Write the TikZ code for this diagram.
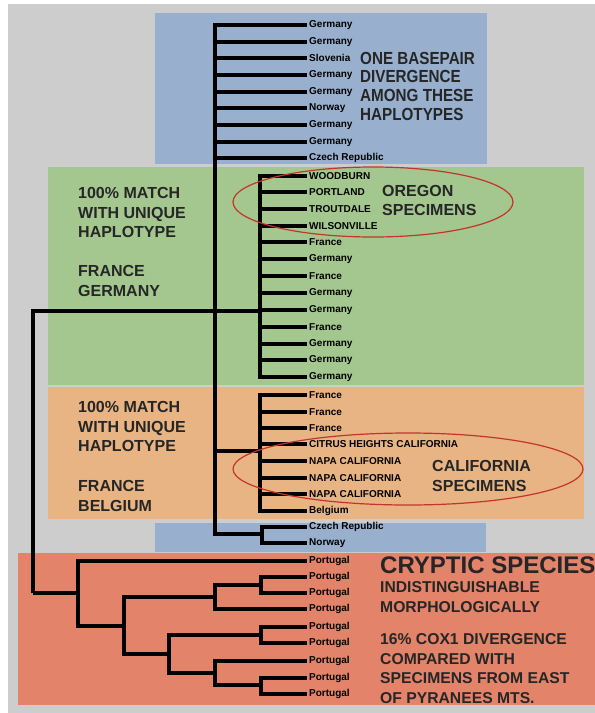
\documentclass[tikz,border=0pt]{standalone}
\usepackage{fontspec}
\setmainfont{Liberation Sans}
\newfontfamily\narrowsans{Liberation Sans}[FakeStretch=0.87]
\usepackage{xcolor}
\definecolor{panelgray}{RGB}{205,205,205}
\definecolor{panelblue}{RGB}{152,176,206}
\definecolor{panelgreen}{RGB}{163,199,142}
\definecolor{panelorange}{RGB}{232,180,131}
\definecolor{panelred}{RGB}{226,131,106}
\definecolor{ringred}{RGB}{196,52,42}
\definecolor{inkgray}{RGB}{38,38,38}

\begin{document}
\begin{tikzpicture}[
  x=1pt, y=-1pt,
  leaf/.style={anchor=west, inner sep=2pt, text=black,
               font=\fontsize{10}{12}\selectfont\bfseries},
  note/.style={anchor=north west, inner sep=0pt, align=left, text=inkgray,
               font=\fontsize{16}{19.5}\selectfont\bfseries},
  branch/.style={line width=3.8pt, black},
  ring/.style={draw=ringred, line width=1.2pt}
]
\useasboundingbox (0,0) rectangle (595,713);

% coloured panels behind the tree
\fill[white] (0,0) rectangle (595,713);
\fill[panelgray] (8,4) rectangle (595,713);
\fill[panelblue] (155,13) rectangle (487,164);
\fill[panelgreen] (48,167) rectangle (584,385);
\fill[panelorange] (48,387) rectangle (584,519);
\fill[panelblue] (155,523) rectangle (486,552);
\fill[panelred] (18,553) rectangle (595,705);

% panel notes
\node[note, font=\narrowsans\fontsize{17.5}{18.7}\selectfont\bfseries] (onebp) at (360,51.7)
  {ONE BASEPAIR\\DIVERGENCE\\AMONG THESE\\HAPLOTYPES};
\node[note] (matchfg) at (78,187.3)
  {100\% MATCH\\WITH UNIQUE\\HAPLOTYPE\\[19.5pt]FRANCE\\GERMANY};
\node[note, font=\fontsize{16}{19}\selectfont\bfseries] (oregon) at (382,185.3)
  {OREGON\\SPECIMENS};
\node[note, font=\fontsize{16}{19.6}\selectfont\bfseries] (matchfb) at (78,401.3)
  {100\% MATCH\\WITH UNIQUE\\HAPLOTYPE\\[20pt]FRANCE\\BELGIUM};
\node[note, font=\fontsize{16}{20}\selectfont\bfseries] (calif) at (432,460.3)
  {CALIFORNIA\\SPECIMENS};
\node[note, font=\fontsize{24}{28}\selectfont\bfseries] (cryptic) at (380,556.4)
  {CRYPTIC SPECIES};
\node[note, font=\fontsize{15.7}{20}\selectfont\bfseries] (morph) at (380,581.4)
  {INDISTINGUISHABLE\\MORPHOLOGICALLY};
\node[note, font=\fontsize{15.7}{19.7}\selectfont\bfseries] (cox) at (380,633.4)
  {16\% COX1 DIVERGENCE\\COMPARED WITH\\SPECIMENS FROM EAST\\OF PYRANEES MTS.};

% leaves: top polytomy
\node[leaf] (t1) at (307,25) {Germany};
\node[leaf] (t2) at (307,42) {Germany};
\node[leaf] (t3) at (307,58) {Slovenia};
\node[leaf] (t4) at (307,75) {Germany};
\node[leaf] (t5) at (307,92) {Germany};
\node[leaf] (t6) at (307,108) {Norway};
\node[leaf] (t7) at (307,125) {Germany};
\node[leaf] (t8) at (307,142) {Germany};
\node[leaf] (t9) at (307,158) {Czech Republic};

% leaves: France / Germany haplotype
\node[leaf] (a1) at (307,176) {WOODBURN};
\node[leaf] (a2) at (307,192) {PORTLAND};
\node[leaf] (a3) at (307,209) {TROUTDALE};
\node[leaf] (a4) at (307,226) {WILSONVILLE};
\node[leaf] (a5) at (307,242) {France};
\node[leaf] (a6) at (307,259) {Germany};
\node[leaf] (a7) at (307,276) {France};
\node[leaf] (a8) at (307,293) {Germany};
\node[leaf] (a9) at (307,310) {Germany};
\node[leaf] (a10) at (307,327) {France};
\node[leaf] (a11) at (307,344) {Germany};
\node[leaf] (a12) at (307,360) {Germany};
\node[leaf] (a13) at (307,377) {Germany};

% leaves: France / Belgium haplotype
\node[leaf] (b1) at (307,395) {France};
\node[leaf] (b2) at (307,412) {France};
\node[leaf] (b3) at (307,428) {France};
\node[leaf] (b4) at (307,444) {CITRUS HEIGHTS CALIFORNIA};
\node[leaf] (b5) at (307,461) {NAPA CALIFORNIA};
\node[leaf] (b6) at (307,478) {NAPA CALIFORNIA};
\node[leaf] (b7) at (307,494) {NAPA CALIFORNIA};
\node[leaf] (b8) at (307,511) {Belgium};

% leaves: small bottom pair
\node[leaf] (c1) at (307,527) {Czech Republic};
\node[leaf] (c2) at (307,543) {Norway};

% leaves: cryptic species
\node[leaf] (p1) at (307,561) {Portugal};
\node[leaf] (p2) at (307,577) {Portugal};
\node[leaf] (p3) at (307,593) {Portugal};
\node[leaf] (p4) at (307,609) {Portugal};
\node[leaf] (p5) at (307,627) {Portugal};
\node[leaf] (p6) at (307,643) {Portugal};
\node[leaf] (p7) at (307,661) {Portugal};
\node[leaf] (p8) at (307,678) {Portugal};
\node[leaf] (p9) at (307,694) {Portugal};

% internal nodes of the tree
\coordinate (root) at (33,593);
\coordinate (main) at (215,311);
\coordinate (gA) at (260,311);
\coordinate (oA) at (260,451);
\coordinate (cA) at (262,534);
\coordinate (nA) at (78,593);
\coordinate (nB) at (124,626);
\coordinate (nC) at (215,597);
\coordinate (nD) at (261,585);
\coordinate (nE) at (169,654);
\coordinate (nF) at (261,635);
\coordinate (nG) at (215,673);
\coordinate (nH) at (261,685);

% branches
\draw[branch] (root) |- (main);
\draw[branch] (root) -- (nA);
\draw[branch] (main) |- (t1.west); \draw[branch] (main) |- (t2.west);
\draw[branch] (main) |- (t3.west); \draw[branch] (main) |- (t4.west);
\draw[branch] (main) |- (t5.west); \draw[branch] (main) |- (t6.west);
\draw[branch] (main) |- (t7.west); \draw[branch] (main) |- (t8.west);
\draw[branch] (main) |- (t9.west);
\draw[branch] (main) -- (gA);
\draw[branch] (main) |- (oA);
\draw[branch] (main) |- (cA);
\draw[branch] (gA) |- (a1.west); \draw[branch] (gA) |- (a2.west);
\draw[branch] (gA) |- (a3.west); \draw[branch] (gA) |- (a4.west);
\draw[branch] (gA) |- (a5.west); \draw[branch] (gA) |- (a6.west);
\draw[branch] (gA) |- (a7.west); \draw[branch] (gA) |- (a8.west);
\draw[branch] (gA) |- (a9.west); \draw[branch] (gA) |- (a10.west);
\draw[branch] (gA) |- (a11.west); \draw[branch] (gA) |- (a12.west);
\draw[branch] (gA) |- (a13.west);
\draw[branch] (oA) |- (b1.west); \draw[branch] (oA) |- (b2.west);
\draw[branch] (oA) |- (b3.west); \draw[branch] (oA) |- (b4.west);
\draw[branch] (oA) |- (b5.west); \draw[branch] (oA) |- (b6.west);
\draw[branch] (oA) |- (b7.west); \draw[branch] (oA) |- (b8.west);
\draw[branch] (cA) |- (c1.west); \draw[branch] (cA) |- (c2.west);
\draw[branch] (nA) |- (p1.west); \draw[branch] (nA) |- (nB);
\draw[branch] (nB) |- (nC); \draw[branch] (nB) |- (nE);
\draw[branch] (nC) |- (nD); \draw[branch] (nC) |- (p4.west);
\draw[branch] (nD) |- (p2.west); \draw[branch] (nD) |- (p3.west);
\draw[branch] (nE) |- (nF); \draw[branch] (nE) |- (nG);
\draw[branch] (nF) |- (p5.west); \draw[branch] (nF) |- (p6.west);
\draw[branch] (nG) |- (p7.west); \draw[branch] (nG) |- (nH);
\draw[branch] (nH) |- (p8.west); \draw[branch] (nH) |- (p9.west);

% red rings round the US specimens
\draw[ring] (373,202) ellipse [x radius=140, y radius=35];
\draw[ring] (408,469) ellipse [x radius=175, y radius=36];

\end{tikzpicture}
\end{document}
